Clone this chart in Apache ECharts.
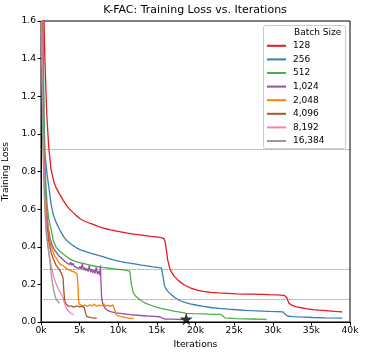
<!DOCTYPE html>
<html>
<head>
<meta charset="utf-8">
<script src="https://cdn.jsdelivr.net/npm/echarts@6/dist/echarts.min.js"></script>
<style>
  html, body { margin: 0; padding: 0; background: #fff; }
  #chart { width: 366px; height: 357px; }
</style>
</head>
<body>
<div id="chart"></div>
<script>
// iterations in thousands, training loss
const batchSizes = ['128', '256', '512', '1,024', '2,048', '4,096', '8,192', '16,384'];
const colors = ['#e41a1c', '#377eb8', '#4daf4a', '#984ea3', '#ff7f00', '#a65628', '#f781bf', '#999999'];

const loss128 = [[0.3,1.75],[0.5,1.4],[0.75,1.1],[1.0,0.93],[1.3,0.81],[1.7,0.74],[2.0,0.71],[2.4,0.68],[2.9,0.645],[3.3,0.62],[3.7,0.6],[4.2,0.58],[4.6,0.565],[5.0,0.55],[5.6,0.537],[6.3,0.525],[7.0,0.515],[7.6,0.505],[8.3,0.497],[9.0,0.49],[9.8,0.483],[10.5,0.478],[11.2,0.472],[12.0,0.467],[12.8,0.463],[13.5,0.459],[14.2,0.455],[14.9,0.452],[15.5,0.449],[15.9,0.445],[16.1,0.42],[16.4,0.33],[16.7,0.28],[17.2,0.245],[17.8,0.22],[18.5,0.198],[19.3,0.182],[20.2,0.17],[21.0,0.163],[22.0,0.158],[23.0,0.155],[24.2,0.152],[25.3,0.149],[26.4,0.148],[27.4,0.148],[28.5,0.147],[29.6,0.145],[30.6,0.144],[31.5,0.141],[31.8,0.13],[32.1,0.1],[32.5,0.088],[33.0,0.082],[33.5,0.077],[34.3,0.071],[35.2,0.066],[36.0,0.063],[36.9,0.061],[38.0,0.057],[39.0,0.054]];

const loss256 = [[0.2,1.75],[0.35,1.2],[0.5,0.9],[0.8,0.78],[1.1,0.69],[1.33,0.62],[1.6,0.57],[1.9,0.535],[2.3,0.5],[2.9,0.455],[3.4,0.43],[4.0,0.41],[4.5,0.397],[5.0,0.385],[5.7,0.375],[6.4,0.366],[7.2,0.357],[8.0,0.348],[8.7,0.338],[9.4,0.33],[10.2,0.322],[11.0,0.316],[11.5,0.313],[12.3,0.308],[13.0,0.302],[13.7,0.298],[14.5,0.293],[15.2,0.289],[15.6,0.287],[15.8,0.24],[16.0,0.19],[16.3,0.168],[16.7,0.152],[17.3,0.13],[18.0,0.113],[18.7,0.103],[19.3,0.096],[20.2,0.089],[21.0,0.083],[22.0,0.077],[23.1,0.072],[24.2,0.068],[25.3,0.065],[26.4,0.062],[27.4,0.06],[28.5,0.058],[29.6,0.056],[30.5,0.055],[31.3,0.054],[31.6,0.042],[31.9,0.032],[32.6,0.029],[33.5,0.027],[35.2,0.024],[36.9,0.022],[39.0,0.021]];

const loss512 = [[0.2,1.75],[0.4,1.0],[0.6,0.75],[0.8,0.62],[1.0,0.55],[1.33,0.49],[1.6,0.43],[2.0,0.395],[2.5,0.375],[2.9,0.36],[3.4,0.345],[3.8,0.333],[4.4,0.322],[5.0,0.315],[5.6,0.31],[6.2,0.303],[7.2,0.295],[8.0,0.29],[8.6,0.287],[9.3,0.283],[10.0,0.28],[10.7,0.277],[11.2,0.273],[11.5,0.27],[11.7,0.2],[11.95,0.155],[12.3,0.135],[12.8,0.118],[13.5,0.1],[14.5,0.085],[15.4,0.074],[16.3,0.066],[17.2,0.058],[18.0,0.052],[18.8,0.046],[19.8,0.044],[21.0,0.043],[22.2,0.041],[23.3,0.04],[23.5,0.03],[23.8,0.022],[25.3,0.018],[27.4,0.016],[29.2,0.014]];

const loss1024 = [[0.1,1.75],[0.25,1.1],[0.45,0.8],[0.7,0.6],[0.95,0.5],[1.2,0.44],[1.4,0.415],[1.6,0.395],[1.8,0.38],[2.06,0.366],[2.3,0.352],[2.5,0.345],[2.7,0.338],[2.9,0.33],[3.1,0.322],[3.25,0.33],[3.4,0.312],[3.55,0.322],[3.7,0.305],[3.85,0.318],[4.0,0.3],[4.15,0.312],[4.3,0.296],[4.45,0.305],[4.6,0.29],[4.75,0.3],[4.9,0.284],[5.05,0.296],[5.2,0.28],[5.35,0.31],[5.5,0.276],[5.65,0.29],[5.8,0.272],[5.95,0.285],[6.1,0.268],[6.25,0.3],[6.4,0.265],[6.55,0.28],[6.7,0.262],[6.85,0.276],[7.0,0.258],[7.15,0.29],[7.3,0.255],[7.45,0.27],[7.6,0.25],[7.7,0.3],[7.75,0.22],[7.85,0.13],[8.0,0.095],[8.3,0.072],[8.6,0.062],[9.0,0.055],[9.7,0.048],[10.5,0.044],[11.5,0.039],[12.5,0.036],[13.7,0.032],[14.6,0.03],[15.4,0.028],[15.7,0.02],[16.0,0.016],[17.0,0.015],[18.4,0.013]];

const loss2048 = [[0.1,1.75],[0.3,1.0],[0.5,0.72],[0.75,0.55],[1.0,0.46],[1.2,0.42],[1.5,0.38],[1.75,0.35],[2.06,0.335],[2.4,0.31],[2.6,0.318],[2.9,0.298],[3.1,0.305],[3.3,0.285],[3.5,0.292],[3.7,0.275],[3.9,0.284],[4.2,0.268],[4.4,0.275],[4.65,0.258],[4.78,0.2],[4.85,0.12],[4.95,0.095],[5.2,0.088],[5.4,0.083],[5.7,0.09],[6.0,0.082],[6.3,0.092],[6.6,0.085],[6.9,0.095],[7.2,0.083],[7.5,0.09],[7.8,0.086],[8.1,0.097],[8.4,0.084],[8.7,0.09],[9.0,0.083],[9.3,0.092],[9.5,0.085],[9.6,0.06],[9.7,0.04],[10.0,0.032],[10.7,0.026],[11.3,0.021],[12.0,0.018]];

const loss4096 = [[0.1,1.75],[0.3,0.95],[0.5,0.68],[0.75,0.52],[1.0,0.43],[1.3,0.37],[1.55,0.34],[1.97,0.3],[2.2,0.29],[2.4,0.277],[2.6,0.262],[2.85,0.235],[2.95,0.17],[3.05,0.12],[3.2,0.098],[3.5,0.085],[3.7,0.08],[4.0,0.084],[4.3,0.078],[4.6,0.086],[5.0,0.08],[5.3,0.083],[5.6,0.078],[5.75,0.05],[5.9,0.03],[6.2,0.026],[6.7,0.022],[7.2,0.02]];

const loss8192 = [[0.05,1.75],[0.25,1.0],[0.45,0.7],[0.7,0.5],[0.9,0.4],[1.1,0.35],[1.33,0.295],[1.55,0.255],[1.75,0.225],[1.9,0.215],[2.0,0.2],[2.1,0.195],[2.2,0.18],[2.3,0.19],[2.4,0.165],[2.5,0.172],[2.6,0.15],[2.7,0.158],[2.8,0.135],[2.9,0.14],[3.0,0.105],[3.1,0.095],[3.3,0.072],[3.5,0.06],[3.7,0.052],[3.9,0.045],[4.13,0.04],[4.3,0.037]];

const loss16384 = [[0.02,1.75],[0.2,1.0],[0.4,0.7],[0.55,0.55],[0.7,0.46],[0.9,0.4],[1.1,0.34],[1.33,0.25],[1.55,0.19],[1.75,0.15],[1.97,0.12],[2.2,0.108],[2.4,0.1]];

const allLoss = [loss128, loss256, loss512, loss1024, loss2048, loss4096, loss8192, loss16384];

const refLines = [0.92, 0.28, 0.12];
const starPoint = [[18.8, 0.016]];

const xTicks = { min: 0, max: 40, step: 5 };
const yTicks = { min: 0, max: 1.6, step: 0.2 };

const font = 'DejaVu Sans';
const chart = echarts.init(document.getElementById('chart'));

const lineSeries = allLoss.map((data, i) => ({
  name: batchSizes[i],
  type: 'line',
  data: data,
  symbol: 'none',
  clip: true,
  lineStyle: { color: colors[i], width: 1.3 },
  itemStyle: { color: colors[i] },
  animation: false
}));

const option = {
  animation: false,
  title: {
    text: 'K-FAC: Training Loss vs. Iterations',
    left: 195,
    textAlign: 'center',
    top: 5,
    padding: 0,
    textStyle: { fontFamily: font, fontSize: 11, fontWeight: 'normal', color: '#000' }
  },
  grid: {
    left: 41, right: 16, top: 21, bottom: 35,
    show: true, borderColor: '#000', borderWidth: 1,
    outerBoundsMode: 'none'
  },
  legend: {
    data: batchSizes,
    orient: 'vertical',
    left: 267,
    top: 39,
    itemWidth: 19,
    itemHeight: 2,
    itemGap: 0,
    icon: 'rect',
    padding: 0,
    z: 20,
    textStyle: { fontFamily: font, fontSize: 9, color: '#000', lineHeight: 13.6, padding: [0, 0, 0, 2] }
  },
  graphic: [
    {
      type: 'rect',
      shape: { x: 263.5, y: 25.5, width: 82, height: 123, r: 2 },
      style: { fill: '#fff', stroke: '#ccc', lineWidth: 1 },
      z: 5
    },
    {
      type: 'text',
      x: 294, y: 33,
      style: { text: 'Batch Size', fontFamily: font, fontSize: 9, fill: '#000', verticalAlign: 'middle' },
      z: 6
    }
  ],
  xAxis: {
    type: 'value',
    min: xTicks.min, max: xTicks.max, interval: xTicks.step,
    name: 'Iterations',
    nameLocation: 'middle',
    nameGap: 17,
    nameTextStyle: { fontFamily: font, fontSize: 9.2, color: '#000' },
    axisLine: { show: true, onZero: false, lineStyle: { color: '#000', width: 1 } },
    axisTick: { show: true, length: 3.5, lineStyle: { color: '#000' } },
    axisLabel: { formatter: '{value}k', fontFamily: font, fontSize: 9.2, color: '#000', margin: 4 },
    splitLine: { show: false }
  },
  yAxis: {
    type: 'value',
    min: yTicks.min, max: yTicks.max, interval: yTicks.step,
    name: 'Training Loss',
    nameLocation: 'middle',
    nameGap: 23,
    nameTextStyle: { fontFamily: font, fontSize: 9.2, color: '#000' },
    axisLine: { show: true, lineStyle: { color: '#000', width: 1 } },
    axisTick: { show: true, length: 3.5, lineStyle: { color: '#000' } },
    axisLabel: { formatter: v => v.toFixed(1), fontFamily: font, fontSize: 9.2, color: '#000', margin: 5 },
    splitLine: { show: false }
  },
  series: [
    {
      name: 'ref',
      type: 'scatter',
      data: [],
      z: 1,
      markLine: {
        silent: true,
        symbol: 'none',
        label: { show: false },
        lineStyle: { color: '#666', type: 'dotted', width: 0.8 },
        data: refLines.map(v => ({ yAxis: v }))
      }
    },
    ...lineSeries,
    {
      name: 'star',
      type: 'scatter',
      data: starPoint,
      symbol: 'path://M50,0 L61,35 L98,35 L68,57 L79,91 L50,70 L21,91 L32,57 L2,35 L39,35 Z',
      symbolSize: 13,
      itemStyle: { color: '#000' },
      z: 10
    }
  ]
};

chart.setOption(option);
</script>
</body>
</html>
